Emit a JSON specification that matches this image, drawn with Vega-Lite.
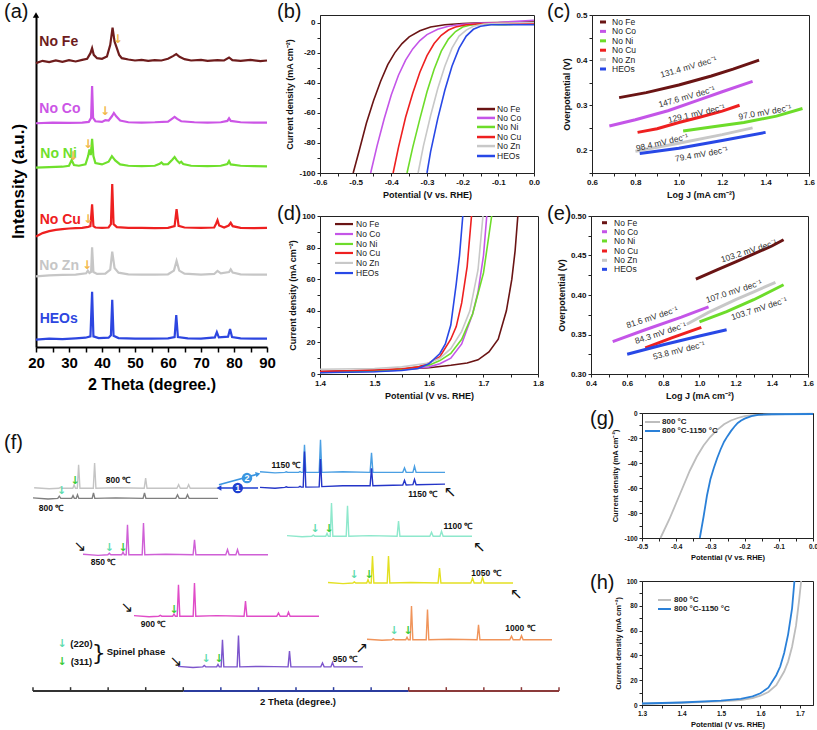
{
"$schema":"https://vega.github.io/schema/vega-lite/v6.json",
"padding":{"left":3,"top":1,"right":0,"bottom":0},
"spacing":7,
"config":{
 "font":"Liberation Sans",
 "view":{"stroke":"#222","strokeWidth":1},
 "axis":{"grid":false,"labelFlush":false,"labelOverlap":false,"domainColor":"#222","tickColor":"#222","labelColor":"#111","titleColor":"#111","labelFontWeight":"bold","titleFontWeight":"bold","labelFontSize":8,"titleFontSize":9,"tickSize":3,"labelPadding":2,"titlePadding":4}
},
"resolve":{"scale":{"color":"independent"},"legend":{"color":"independent"}},
"datasets":{
"a":[
{"s":"No Fe","x":20,"y":85.5},{"s":"No Fe","x":22,"y":86.2},{"s":"No Fe","x":24,"y":85.8},{"s":"No Fe","x":26,"y":86.3},{"s":"No Fe","x":28,"y":85.9},{"s":"No Fe","x":30,"y":86.4},{"s":"No Fe","x":32,"y":86.0},{"s":"No Fe","x":34,"y":86.5},{"s":"No Fe","x":35.5,"y":86.8},{"s":"No Fe","x":36.5,"y":88.5},{"s":"No Fe","x":37,"y":90.0},{"s":"No Fe","x":37.5,"y":88.0},{"s":"No Fe","x":38.5,"y":87.0},{"s":"No Fe","x":40,"y":86.8},{"s":"No Fe","x":41.5,"y":87.5},{"s":"No Fe","x":42.5,"y":91.0},{"s":"No Fe","x":43.2,"y":96.2},{"s":"No Fe","x":43.8,"y":92.0},{"s":"No Fe","x":44.5,"y":90.0},{"s":"No Fe","x":45.2,"y":88.0},{"s":"No Fe","x":46,"y":87.0},{"s":"No Fe","x":48,"y":86.6},{"s":"No Fe","x":50,"y":86.3},{"s":"No Fe","x":52,"y":86.5},{"s":"No Fe","x":54,"y":86.2},{"s":"No Fe","x":56,"y":86.4},{"s":"No Fe","x":58,"y":86.3},{"s":"No Fe","x":60,"y":86.8},{"s":"No Fe","x":61.5,"y":87.6},{"s":"No Fe","x":62.5,"y":88.2},{"s":"No Fe","x":63.5,"y":87.4},{"s":"No Fe","x":65,"y":86.7},{"s":"No Fe","x":67,"y":86.3},{"s":"No Fe","x":70,"y":86.5},{"s":"No Fe","x":72,"y":86.2},{"s":"No Fe","x":75,"y":86.4},{"s":"No Fe","x":77,"y":86.3},{"s":"No Fe","x":78.5,"y":87.2},{"s":"No Fe","x":79.5,"y":86.4},{"s":"No Fe","x":82,"y":86.2},{"s":"No Fe","x":85,"y":86.5},{"s":"No Fe","x":88,"y":86.1},{"s":"No Fe","x":90,"y":86.3},
{"s":"No Co","x":20,"y":67.4},{"s":"No Co","x":25,"y":67.6},{"s":"No Co","x":30,"y":67.5},{"s":"No Co","x":34,"y":67.6},{"s":"No Co","x":36,"y":67.8},{"s":"No Co","x":36.7,"y":69},{"s":"No Co","x":37,"y":78.6},{"s":"No Co","x":37.3,"y":69},{"s":"No Co","x":38,"y":68},{"s":"No Co","x":40,"y":67.8},{"s":"No Co","x":41,"y":68.3},{"s":"No Co","x":42,"y":68.2},{"s":"No Co","x":43,"y":69.5},{"s":"No Co","x":43.6,"y":70.5},{"s":"No Co","x":44.3,"y":69.5},{"s":"No Co","x":45.5,"y":68.2},{"s":"No Co","x":48,"y":67.7},{"s":"No Co","x":52,"y":67.6},{"s":"No Co","x":56,"y":67.7},{"s":"No Co","x":60,"y":67.9},{"s":"No Co","x":61.3,"y":68.8},{"s":"No Co","x":62,"y":69.3},{"s":"No Co","x":62.8,"y":68.7},{"s":"No Co","x":64,"y":68},{"s":"No Co","x":68,"y":67.7},{"s":"No Co","x":72,"y":67.6},{"s":"No Co","x":76,"y":67.7},{"s":"No Co","x":78,"y":68.1},{"s":"No Co","x":78.5,"y":68.9},{"s":"No Co","x":79,"y":68.1},{"s":"No Co","x":82,"y":67.7},{"s":"No Co","x":86,"y":67.6},{"s":"No Co","x":90,"y":67.6},
{"s":"No Ni","x":20,"y":54.0},{"s":"No Ni","x":24,"y":54.2},{"s":"No Ni","x":28,"y":54.3},{"s":"No Ni","x":30,"y":54.6},{"s":"No Ni","x":30.8,"y":56.3},{"s":"No Ni","x":31.5,"y":54.8},{"s":"No Ni","x":33,"y":54.6},{"s":"No Ni","x":35,"y":55},{"s":"No Ni","x":35.8,"y":57.5},{"s":"No Ni","x":36.2,"y":59.5},{"s":"No Ni","x":36.6,"y":57.8},{"s":"No Ni","x":37,"y":62.7},{"s":"No Ni","x":37.4,"y":57.5},{"s":"No Ni","x":38,"y":55.4},{"s":"No Ni","x":40,"y":55},{"s":"No Ni","x":42,"y":55.8},{"s":"No Ni","x":43,"y":57.5},{"s":"No Ni","x":44,"y":56.2},{"s":"No Ni","x":45.5,"y":55},{"s":"No Ni","x":48,"y":54.6},{"s":"No Ni","x":52,"y":54.5},{"s":"No Ni","x":56,"y":54.6},{"s":"No Ni","x":57.5,"y":55.2},{"s":"No Ni","x":58,"y":55.6},{"s":"No Ni","x":58.6,"y":55},{"s":"No Ni","x":60,"y":55.1},{"s":"No Ni","x":61.3,"y":56.4},{"s":"No Ni","x":62,"y":57.2},{"s":"No Ni","x":62.7,"y":56.2},{"s":"No Ni","x":63.5,"y":55.4},{"s":"No Ni","x":64,"y":55.8},{"s":"No Ni","x":64.6,"y":55.1},{"s":"No Ni","x":67,"y":54.6},{"s":"No Ni","x":72,"y":54.5},{"s":"No Ni","x":76,"y":54.6},{"s":"No Ni","x":78,"y":55.1},{"s":"No Ni","x":78.5,"y":56},{"s":"No Ni","x":79,"y":55},{"s":"No Ni","x":82,"y":54.6},{"s":"No Ni","x":86,"y":54.5},{"s":"No Ni","x":90,"y":54.4},
{"s":"No Cu","x":20,"y":33.3},{"s":"No Cu","x":22,"y":34.3},{"s":"No Cu","x":24,"y":34.9},{"s":"No Cu","x":26,"y":35.3},{"s":"No Cu","x":28,"y":35.5},{"s":"No Cu","x":30,"y":35.7},{"s":"No Cu","x":32,"y":35.8},{"s":"No Cu","x":34,"y":35.9},{"s":"No Cu","x":35.8,"y":36.2},{"s":"No Cu","x":36.5,"y":36.4},{"s":"No Cu","x":37,"y":43.0},{"s":"No Cu","x":37.4,"y":36.4},{"s":"No Cu","x":38,"y":36},{"s":"No Cu","x":40,"y":35.9},{"s":"No Cu","x":42,"y":36},{"s":"No Cu","x":42.7,"y":37},{"s":"No Cu","x":43.1,"y":49.1},{"s":"No Cu","x":43.5,"y":37},{"s":"No Cu","x":44.5,"y":36.1},{"s":"No Cu","x":48,"y":35.9},{"s":"No Cu","x":52,"y":35.9},{"s":"No Cu","x":56,"y":35.8},{"s":"No Cu","x":60,"y":35.9},{"s":"No Cu","x":62,"y":36.4},{"s":"No Cu","x":62.6,"y":41.5},{"s":"No Cu","x":63.2,"y":36.5},{"s":"No Cu","x":65,"y":36},{"s":"No Cu","x":70,"y":35.9},{"s":"No Cu","x":74,"y":36},{"s":"No Cu","x":74.6,"y":37.2},{"s":"No Cu","x":75,"y":38.2},{"s":"No Cu","x":75.5,"y":36.6},{"s":"No Cu","x":77,"y":36},{"s":"No Cu","x":78.4,"y":36.6},{"s":"No Cu","x":79,"y":37.4},{"s":"No Cu","x":79.6,"y":36.4},{"s":"No Cu","x":82,"y":35.9},{"s":"No Cu","x":86,"y":35.8},{"s":"No Cu","x":90,"y":35.9},
{"s":"No Zn","x":20,"y":21.3},{"s":"No Zn","x":24,"y":21.6},{"s":"No Zn","x":28,"y":21.7},{"s":"No Zn","x":32,"y":21.8},{"s":"No Zn","x":35.2,"y":22.2},{"s":"No Zn","x":35.7,"y":23},{"s":"No Zn","x":36.2,"y":22.3},{"s":"No Zn","x":36.7,"y":22.6},{"s":"No Zn","x":37,"y":30.0},{"s":"No Zn","x":37.4,"y":22.6},{"s":"No Zn","x":38.5,"y":22},{"s":"No Zn","x":41,"y":22.1},{"s":"No Zn","x":42.5,"y":23.3},{"s":"No Zn","x":43.1,"y":28.7},{"s":"No Zn","x":43.8,"y":23.8},{"s":"No Zn","x":45,"y":22.4},{"s":"No Zn","x":48,"y":21.9},{"s":"No Zn","x":52,"y":21.8},{"s":"No Zn","x":56,"y":21.8},{"s":"No Zn","x":60,"y":21.9},{"s":"No Zn","x":61.8,"y":23},{"s":"No Zn","x":62.6,"y":25.9},{"s":"No Zn","x":63.4,"y":23},{"s":"No Zn","x":65,"y":22.1},{"s":"No Zn","x":70,"y":21.8},{"s":"No Zn","x":74,"y":22},{"s":"No Zn","x":75,"y":22.9},{"s":"No Zn","x":76,"y":22.2},{"s":"No Zn","x":78.5,"y":22.6},{"s":"No Zn","x":79,"y":23.4},{"s":"No Zn","x":79.6,"y":22.4},{"s":"No Zn","x":82,"y":21.9},{"s":"No Zn","x":86,"y":21.8},{"s":"No Zn","x":90,"y":21.8},
{"s":"HEOs","x":20,"y":2.2},{"s":"HEOs","x":24,"y":2.5},{"s":"HEOs","x":28,"y":2.4},{"s":"HEOs","x":32,"y":2.6},{"s":"HEOs","x":35,"y":2.8},{"s":"HEOs","x":36.5,"y":3.2},{"s":"HEOs","x":37,"y":16.6},{"s":"HEOs","x":37.4,"y":3.2},{"s":"HEOs","x":39,"y":2.7},{"s":"HEOs","x":42,"y":2.8},{"s":"HEOs","x":42.7,"y":3.5},{"s":"HEOs","x":43.1,"y":14.2},{"s":"HEOs","x":43.5,"y":3.4},{"s":"HEOs","x":45,"y":2.7},{"s":"HEOs","x":50,"y":2.5},{"s":"HEOs","x":55,"y":2.5},{"s":"HEOs","x":60,"y":2.6},{"s":"HEOs","x":62,"y":3.0},{"s":"HEOs","x":62.5,"y":9.6},{"s":"HEOs","x":63,"y":3.0},{"s":"HEOs","x":66,"y":2.6},{"s":"HEOs","x":70,"y":2.5},{"s":"HEOs","x":74.2,"y":2.9},{"s":"HEOs","x":74.8,"y":4.5},{"s":"HEOs","x":75.4,"y":2.9},{"s":"HEOs","x":78.2,"y":3.1},{"s":"HEOs","x":78.8,"y":5.4},{"s":"HEOs","x":79.4,"y":3.0},{"s":"HEOs","x":82,"y":2.6},{"s":"HEOs","x":86,"y":2.5},{"s":"HEOs","x":90,"y":2.5}
],
"alab":[{"s":"No Fe","x":21,"y":91.9},{"s":"No Co","x":21,"y":71.7},{"s":"No Ni","x":21.3,"y":58.1},{"s":"No Cu","x":21.1,"y":38.3},{"s":"No Zn","x":21,"y":24.4},{"s":"HEOs","x":21.1,"y":8.4}],
"aarr":[{"x":44.8,"y":92.8},{"x":40.9,"y":71.1},{"x":35.8,"y":61.1},{"x":31.2,"y":57.4},{"x":35.8,"y":38.6},{"x":35.5,"y":24.7}],
"b":[
{"s":"No Fe","x":-0.507,"y":-100},{"s":"No Fe","x":-0.49,"y":-85},{"s":"No Fe","x":-0.47,"y":-67},{"s":"No Fe","x":-0.45,"y":-52},{"s":"No Fe","x":-0.43,"y":-39},{"s":"No Fe","x":-0.41,"y":-28},{"s":"No Fe","x":-0.39,"y":-20},{"s":"No Fe","x":-0.37,"y":-14},{"s":"No Fe","x":-0.35,"y":-9.5},{"s":"No Fe","x":-0.32,"y":-5.5},{"s":"No Fe","x":-0.29,"y":-3},{"s":"No Fe","x":-0.25,"y":-1.5},{"s":"No Fe","x":-0.2,"y":-0.6},{"s":"No Fe","x":-0.15,"y":-0.2},{"s":"No Fe","x":-0.1,"y":0},{"s":"No Fe","x":0,"y":0.5},
{"s":"No Co","x":-0.458,"y":-100},{"s":"No Co","x":-0.44,"y":-82},{"s":"No Co","x":-0.42,"y":-64},{"s":"No Co","x":-0.4,"y":-48},{"s":"No Co","x":-0.38,"y":-35},{"s":"No Co","x":-0.36,"y":-25},{"s":"No Co","x":-0.34,"y":-17.5},{"s":"No Co","x":-0.32,"y":-12},{"s":"No Co","x":-0.3,"y":-8},{"s":"No Co","x":-0.27,"y":-4.5},{"s":"No Co","x":-0.24,"y":-2.5},{"s":"No Co","x":-0.2,"y":-1.2},{"s":"No Co","x":-0.15,"y":-0.4},{"s":"No Co","x":-0.1,"y":0},{"s":"No Co","x":0,"y":1.5},
{"s":"No Ni","x":-0.356,"y":-100},{"s":"No Ni","x":-0.34,"y":-83},{"s":"No Ni","x":-0.32,"y":-64},{"s":"No Ni","x":-0.3,"y":-46},{"s":"No Ni","x":-0.28,"y":-31},{"s":"No Ni","x":-0.26,"y":-19},{"s":"No Ni","x":-0.24,"y":-11},{"s":"No Ni","x":-0.22,"y":-6},{"s":"No Ni","x":-0.2,"y":-3},{"s":"No Ni","x":-0.18,"y":-1.8},{"s":"No Ni","x":-0.15,"y":-1},{"s":"No Ni","x":-0.1,"y":-1.5},{"s":"No Ni","x":-0.08,"y":-1.5},{"s":"No Ni","x":0,"y":0},
{"s":"No Cu","x":-0.395,"y":-100},{"s":"No Cu","x":-0.38,"y":-83},{"s":"No Cu","x":-0.36,"y":-63},{"s":"No Cu","x":-0.34,"y":-47},{"s":"No Cu","x":-0.32,"y":-33},{"s":"No Cu","x":-0.3,"y":-22},{"s":"No Cu","x":-0.28,"y":-14},{"s":"No Cu","x":-0.26,"y":-8.5},{"s":"No Cu","x":-0.24,"y":-5},{"s":"No Cu","x":-0.22,"y":-3},{"s":"No Cu","x":-0.19,"y":-1.5},{"s":"No Cu","x":-0.15,"y":-0.8},{"s":"No Cu","x":-0.1,"y":-0.5},{"s":"No Cu","x":0,"y":-0.5},
{"s":"No Zn","x":-0.325,"y":-100},{"s":"No Zn","x":-0.31,"y":-82},{"s":"No Zn","x":-0.29,"y":-62},{"s":"No Zn","x":-0.27,"y":-44},{"s":"No Zn","x":-0.25,"y":-29},{"s":"No Zn","x":-0.23,"y":-17},{"s":"No Zn","x":-0.21,"y":-9},{"s":"No Zn","x":-0.19,"y":-5},{"s":"No Zn","x":-0.17,"y":-2.5},{"s":"No Zn","x":-0.14,"y":-1},{"s":"No Zn","x":-0.1,"y":-0.5},{"s":"No Zn","x":0,"y":0},
{"s":"HEOs","x":-0.3,"y":-100},{"s":"HEOs","x":-0.29,"y":-86},{"s":"HEOs","x":-0.27,"y":-64},{"s":"HEOs","x":-0.25,"y":-45},{"s":"HEOs","x":-0.23,"y":-29},{"s":"HEOs","x":-0.21,"y":-17},{"s":"HEOs","x":-0.19,"y":-9},{"s":"HEOs","x":-0.17,"y":-4.5},{"s":"HEOs","x":-0.15,"y":-2.5},{"s":"HEOs","x":-0.12,"y":-1.5},{"s":"HEOs","x":-0.08,"y":-1.5},{"s":"HEOs","x":0,"y":-1.5}
],
"legB":[{"s":"No Fe","x":-0.1598,"x2":-0.1093,"lx":-0.1037,"y":-57.5},{"s":"No Co","x":-0.1598,"x2":-0.1093,"lx":-0.1037,"y":-63.4},{"s":"No Ni","x":-0.1598,"x2":-0.1093,"lx":-0.1037,"y":-69.4},{"s":"No Cu","x":-0.1598,"x2":-0.1093,"lx":-0.1037,"y":-76.1},{"s":"No Zn","x":-0.1598,"x2":-0.1093,"lx":-0.1037,"y":-82.1},{"s":"HEOs","x":-0.1598,"x2":-0.1093,"lx":-0.1037,"y":-88.7}],
"c":[
{"s":"No Fe","x":0.725,"y":0.317},{"s":"No Fe","x":0.85,"y":0.328},{"s":"No Fe","x":1.0,"y":0.345},{"s":"No Fe","x":1.15,"y":0.365},{"s":"No Fe","x":1.25,"y":0.38},{"s":"No Fe","x":1.37,"y":0.4},
{"s":"No Co","x":0.68,"y":0.254},{"s":"No Co","x":0.8,"y":0.268},{"s":"No Co","x":0.95,"y":0.288},{"s":"No Co","x":1.1,"y":0.313},{"s":"No Co","x":1.2,"y":0.33},{"s":"No Co","x":1.34,"y":0.353},
{"s":"No Ni","x":1.02,"y":0.243},{"s":"No Ni","x":1.15,"y":0.252},{"s":"No Ni","x":1.3,"y":0.262},{"s":"No Ni","x":1.45,"y":0.276},{"s":"No Ni","x":1.57,"y":0.293},
{"s":"No Cu","x":0.81,"y":0.24},{"s":"No Cu","x":0.9,"y":0.248},{"s":"No Cu","x":1.0,"y":0.262},{"s":"No Cu","x":1.1,"y":0.274},{"s":"No Cu","x":1.2,"y":0.287},{"s":"No Cu","x":1.28,"y":0.3},
{"s":"No Zn","x":0.8,"y":0.198},{"s":"No Zn","x":1.0,"y":0.216},{"s":"No Zn","x":1.2,"y":0.235},{"s":"No Zn","x":1.34,"y":0.25},
{"s":"HEOs","x":0.82,"y":0.193},{"s":"HEOs","x":1.0,"y":0.205},{"s":"HEOs","x":1.2,"y":0.222},{"s":"HEOs","x":1.4,"y":0.24}
],
"legC":[{"s":"No Fe","x":0.6369,"x2":0.6645,"lx":0.6922,"y":0.4845},{"s":"No Co","x":0.6369,"x2":0.6645,"lx":0.6922,"y":0.4637},{"s":"No Ni","x":0.6369,"x2":0.6645,"lx":0.6922,"y":0.4428},{"s":"No Cu","x":0.6369,"x2":0.6645,"lx":0.6922,"y":0.422},{"s":"No Zn","x":0.6369,"x2":0.6645,"lx":0.6922,"y":0.4012},{"s":"HEOs","x":0.6369,"x2":0.6645,"lx":0.6922,"y":0.3804}],
"d":[
{"s":"No Fe","x":1.4,"y":1.5},{"s":"No Fe","x":1.5,"y":2.3},{"s":"No Fe","x":1.55,"y":3},{"s":"No Fe","x":1.6,"y":4},{"s":"No Fe","x":1.64,"y":5.5},{"s":"No Fe","x":1.67,"y":7},{"s":"No Fe","x":1.69,"y":9},{"s":"No Fe","x":1.71,"y":14},{"s":"No Fe","x":1.727,"y":22},{"s":"No Fe","x":1.742,"y":40},{"s":"No Fe","x":1.752,"y":60},{"s":"No Fe","x":1.758,"y":78},{"s":"No Fe","x":1.763,"y":100},
{"s":"No Co","x":1.4,"y":1},{"s":"No Co","x":1.5,"y":1.6},{"s":"No Co","x":1.55,"y":2.5},{"s":"No Co","x":1.6,"y":4.5},{"s":"No Co","x":1.62,"y":6.5},{"s":"No Co","x":1.64,"y":10},{"s":"No Co","x":1.66,"y":19},{"s":"No Co","x":1.68,"y":38},{"s":"No Co","x":1.69,"y":52},{"s":"No Co","x":1.7,"y":75},{"s":"No Co","x":1.706,"y":100},
{"s":"No Ni","x":1.4,"y":1},{"s":"No Ni","x":1.5,"y":2},{"s":"No Ni","x":1.55,"y":3},{"s":"No Ni","x":1.6,"y":5.5},{"s":"No Ni","x":1.62,"y":8.5},{"s":"No Ni","x":1.64,"y":13},{"s":"No Ni","x":1.66,"y":22},{"s":"No Ni","x":1.68,"y":38},{"s":"No Ni","x":1.7,"y":64},{"s":"No Ni","x":1.715,"y":100},
{"s":"No Cu","x":1.4,"y":1.5},{"s":"No Cu","x":1.5,"y":2.5},{"s":"No Cu","x":1.55,"y":3.3},{"s":"No Cu","x":1.58,"y":4.5},{"s":"No Cu","x":1.6,"y":7},{"s":"No Cu","x":1.62,"y":11},{"s":"No Cu","x":1.64,"y":22},{"s":"No Cu","x":1.65,"y":30},{"s":"No Cu","x":1.66,"y":45},{"s":"No Cu","x":1.67,"y":68},{"s":"No Cu","x":1.678,"y":100},
{"s":"No Zn","x":1.4,"y":3},{"s":"No Zn","x":1.5,"y":3.5},{"s":"No Zn","x":1.55,"y":4.5},{"s":"No Zn","x":1.6,"y":7},{"s":"No Zn","x":1.62,"y":10},{"s":"No Zn","x":1.64,"y":16},{"s":"No Zn","x":1.66,"y":27},{"s":"No Zn","x":1.675,"y":40},{"s":"No Zn","x":1.69,"y":66},{"s":"No Zn","x":1.699,"y":100},
{"s":"HEOs","x":1.4,"y":0.8},{"s":"HEOs","x":1.5,"y":1.4},{"s":"HEOs","x":1.55,"y":2.2},{"s":"HEOs","x":1.58,"y":3.5},{"s":"HEOs","x":1.6,"y":6.5},{"s":"HEOs","x":1.62,"y":13},{"s":"HEOs","x":1.63,"y":19},{"s":"HEOs","x":1.64,"y":31},{"s":"HEOs","x":1.65,"y":57},{"s":"HEOs","x":1.656,"y":75},{"s":"HEOs","x":1.662,"y":100}
],
"legD":[{"s":"No Fe","x":1.4275,"x2":1.4606,"lx":1.4661,"y":94.9},{"s":"No Co","x":1.4275,"x2":1.4606,"lx":1.4661,"y":88.6},{"s":"No Ni","x":1.4275,"x2":1.4606,"lx":1.4661,"y":82.3},{"s":"No Cu","x":1.4275,"x2":1.4606,"lx":1.4661,"y":76.6},{"s":"No Zn","x":1.4275,"x2":1.4606,"lx":1.4661,"y":70.3},{"s":"HEOs","x":1.4275,"x2":1.4606,"lx":1.4661,"y":63.9}],
"e":[
{"s":"No Fe","x":0.98,"y":0.42},{"s":"No Fe","x":1.1,"y":0.432},{"s":"No Fe","x":1.2,"y":0.442},{"s":"No Fe","x":1.3,"y":0.452},{"s":"No Fe","x":1.4,"y":0.462},{"s":"No Fe","x":1.465,"y":0.47},
{"s":"No Co","x":0.52,"y":0.341},{"s":"No Co","x":0.7,"y":0.356},{"s":"No Co","x":0.9,"y":0.372},{"s":"No Co","x":1.05,"y":0.385},
{"s":"No Ni","x":1.0,"y":0.366},{"s":"No Ni","x":1.15,"y":0.379},{"s":"No Ni","x":1.3,"y":0.394},{"s":"No Ni","x":1.465,"y":0.413},
{"s":"No Cu","x":0.7,"y":0.333},{"s":"No Cu","x":0.85,"y":0.346},{"s":"No Cu","x":1.01,"y":0.359},
{"s":"No Zn","x":0.93,"y":0.363},{"s":"No Zn","x":1.05,"y":0.378},{"s":"No Zn","x":1.2,"y":0.394},{"s":"No Zn","x":1.3,"y":0.404},{"s":"No Zn","x":1.42,"y":0.416},
{"s":"HEOs","x":0.6,"y":0.325},{"s":"HEOs","x":0.8,"y":0.337},{"s":"HEOs","x":1.0,"y":0.348},{"s":"HEOs","x":1.15,"y":0.356}
],
"legE":[{"s":"No Fe","x":0.4608,"x2":0.4885,"lx":0.5272,"y":0.4915},{"s":"No Co","x":0.4608,"x2":0.4885,"lx":0.5272,"y":0.4801},{"s":"No Ni","x":0.4608,"x2":0.4885,"lx":0.5272,"y":0.4684},{"s":"No Cu","x":0.4608,"x2":0.4885,"lx":0.5272,"y":0.4557},{"s":"No Zn","x":0.4608,"x2":0.4885,"lx":0.5272,"y":0.4439},{"s":"HEOs","x":0.4608,"x2":0.4885,"lx":0.5272,"y":0.4325}],
"g":[
{"s":"800 °C","x":-0.446,"y":-100},{"s":"800 °C","x":-0.42,"y":-85},{"s":"800 °C","x":-0.4,"y":-72},{"s":"800 °C","x":-0.38,"y":-59},{"s":"800 °C","x":-0.36,"y":-46},{"s":"800 °C","x":-0.34,"y":-35},{"s":"800 °C","x":-0.32,"y":-26},{"s":"800 °C","x":-0.3,"y":-19},{"s":"800 °C","x":-0.28,"y":-13.5},{"s":"800 °C","x":-0.26,"y":-9},{"s":"800 °C","x":-0.24,"y":-6},{"s":"800 °C","x":-0.22,"y":-4},{"s":"800 °C","x":-0.2,"y":-2.5},{"s":"800 °C","x":-0.17,"y":-1.5},{"s":"800 °C","x":-0.12,"y":-1},{"s":"800 °C","x":0,"y":-0.5},
{"s":"800 °C-1150 °C","x":-0.331,"y":-100},{"s":"800 °C-1150 °C","x":-0.32,"y":-83},{"s":"800 °C-1150 °C","x":-0.31,"y":-66},{"s":"800 °C-1150 °C","x":-0.3,"y":-53},{"s":"800 °C-1150 °C","x":-0.29,"y":-44},{"s":"800 °C-1150 °C","x":-0.28,"y":-36},{"s":"800 °C-1150 °C","x":-0.27,"y":-29},{"s":"800 °C-1150 °C","x":-0.26,"y":-23},{"s":"800 °C-1150 °C","x":-0.25,"y":-18.5},{"s":"800 °C-1150 °C","x":-0.24,"y":-14.5},{"s":"800 °C-1150 °C","x":-0.23,"y":-11},{"s":"800 °C-1150 °C","x":-0.22,"y":-8},{"s":"800 °C-1150 °C","x":-0.21,"y":-6},{"s":"800 °C-1150 °C","x":-0.2,"y":-4.5},{"s":"800 °C-1150 °C","x":-0.18,"y":-2.5},{"s":"800 °C-1150 °C","x":-0.16,"y":-1.5},{"s":"800 °C-1150 °C","x":-0.12,"y":-1},{"s":"800 °C-1150 °C","x":0,"y":-0.8}
],
"legG":[{"s":"800 °C","x":-0.4912,"x2":-0.4474,"lx":-0.4415,"y":-7.2},{"s":"800 °C-1150 °C","x":-0.4912,"x2":-0.4474,"lx":-0.4415,"y":-14.4}],
"h":[
{"s":"800 °C","x":1.3,"y":1},{"s":"800 °C","x":1.4,"y":1.8},{"s":"800 °C","x":1.5,"y":3},{"s":"800 °C","x":1.55,"y":4},{"s":"800 °C","x":1.58,"y":5.5},{"s":"800 °C","x":1.6,"y":7.5},{"s":"800 °C","x":1.62,"y":10.5},{"s":"800 °C","x":1.64,"y":16},{"s":"800 °C","x":1.66,"y":27},{"s":"800 °C","x":1.67,"y":35},{"s":"800 °C","x":1.68,"y":47},{"s":"800 °C","x":1.69,"y":64},{"s":"800 °C","x":1.698,"y":85},{"s":"800 °C","x":1.703,"y":100},
{"s":"800 °C-1150 °C","x":1.3,"y":1.2},{"s":"800 °C-1150 °C","x":1.4,"y":2},{"s":"800 °C-1150 °C","x":1.5,"y":3.5},{"s":"800 °C-1150 °C","x":1.55,"y":5},{"s":"800 °C-1150 °C","x":1.58,"y":7},{"s":"800 °C-1150 °C","x":1.6,"y":9.5},{"s":"800 °C-1150 °C","x":1.62,"y":14},{"s":"800 °C-1150 °C","x":1.64,"y":24},{"s":"800 °C-1150 °C","x":1.65,"y":31},{"s":"800 °C-1150 °C","x":1.66,"y":42},{"s":"800 °C-1150 °C","x":1.67,"y":57},{"s":"800 °C-1150 °C","x":1.68,"y":78},{"s":"800 °C-1150 °C","x":1.686,"y":100}
],
"legH":[{"s":"800 °C","x":1.3405,"x2":1.3734,"lx":1.381,"y":84.7},{"s":"800 °C-1150 °C","x":1.3405,"x2":1.3734,"lx":1.381,"y":77.4}],
"f":[
{"t":"800a","x":0.03,"y":74.2},{"t":"800a","x":0.43,"y":73.8},{"t":"800a","x":0.69,"y":74.0},{"t":"800a","x":0.73,"y":74.3},{"t":"800a","x":0.77,"y":74.0},{"t":"800a","x":1.06,"y":74.0},{"t":"800a","x":1.095,"y":75.2},{"t":"800a","x":1.13,"y":74.0},{"t":"800a","x":1.18,"y":74.0},{"t":"800a","x":1.214,"y":82.6},{"t":"800a","x":1.25,"y":74.0},{"t":"800a","x":1.605,"y":74.0},{"t":"800a","x":1.64,"y":83.2},{"t":"800a","x":1.675,"y":74.0},{"t":"800a","x":2.23,"y":74.2},{"t":"800a","x":2.96,"y":74.0},{"t":"800a","x":2.998,"y":77.7},{"t":"800a","x":3.035,"y":74.0},{"t":"800a","x":3.83,"y":74.0},{"t":"800a","x":3.876,"y":75.3},{"t":"800a","x":3.92,"y":74.0},{"t":"800a","x":4.1,"y":74.0},{"t":"800a","x":4.142,"y":75.3},{"t":"800a","x":4.185,"y":74.0},{"t":"800a","x":4.954,"y":74.0},
{"t":"800b","x":0,"y":70.5},{"t":"800b","x":0.4,"y":70.1},{"t":"800b","x":0.66,"y":70.3},{"t":"800b","x":0.7,"y":71.1},{"t":"800b","x":0.74,"y":70.3},{"t":"800b","x":1.03,"y":70.3},{"t":"800b","x":1.065,"y":71.3},{"t":"800b","x":1.1,"y":70.3},{"t":"800b","x":1.15,"y":70.3},{"t":"800b","x":1.184,"y":71.6},{"t":"800b","x":1.22,"y":70.3},{"t":"800b","x":1.575,"y":70.3},{"t":"800b","x":1.61,"y":72.3},{"t":"800b","x":1.645,"y":70.3},{"t":"800b","x":2.2,"y":70.5},{"t":"800b","x":2.93,"y":70.3},{"t":"800b","x":2.968,"y":72.3},{"t":"800b","x":3.005,"y":70.3},{"t":"800b","x":3.8,"y":70.3},{"t":"800b","x":3.846,"y":71.6},{"t":"800b","x":3.89,"y":70.3},{"t":"800b","x":4.07,"y":70.3},{"t":"800b","x":4.112,"y":71.6},{"t":"800b","x":4.155,"y":70.3},{"t":"800b","x":4.924,"y":70.3},
{"t":"850","x":1.331,"y":49.9},{"t":"850","x":1.731,"y":49.5},{"t":"850","x":1.991,"y":49.7},{"t":"850","x":2.031,"y":50.3},{"t":"850","x":2.071,"y":49.7},{"t":"850","x":2.361,"y":49.7},{"t":"850","x":2.396,"y":50.7},{"t":"850","x":2.431,"y":49.7},{"t":"850","x":2.481,"y":49.7},{"t":"850","x":2.515,"y":60.7},{"t":"850","x":2.551,"y":49.7},{"t":"850","x":2.906,"y":49.7},{"t":"850","x":2.941,"y":61.3},{"t":"850","x":2.976,"y":49.7},{"t":"850","x":3.531,"y":49.9},{"t":"850","x":4.261,"y":49.7},{"t":"850","x":4.299,"y":55.2},{"t":"850","x":4.336,"y":49.7},{"t":"850","x":5.131,"y":49.7},{"t":"850","x":5.177,"y":51.6},{"t":"850","x":5.221,"y":49.7},{"t":"850","x":5.401,"y":49.7},{"t":"850","x":5.443,"y":51.6},{"t":"850","x":5.486,"y":49.7},{"t":"850","x":6.255,"y":49.7},
{"t":"900","x":2.688,"y":27.5},{"t":"900","x":3.088,"y":27.1},{"t":"900","x":3.348,"y":27.3},{"t":"900","x":3.388,"y":27.6},{"t":"900","x":3.428,"y":27.3},{"t":"900","x":3.718,"y":27.3},{"t":"900","x":3.753,"y":28.1},{"t":"900","x":3.788,"y":27.3},{"t":"900","x":3.838,"y":27.3},{"t":"900","x":3.872,"y":38.8},{"t":"900","x":3.908,"y":27.3},{"t":"900","x":4.263,"y":27.3},{"t":"900","x":4.298,"y":39.4},{"t":"900","x":4.333,"y":27.3},{"t":"900","x":4.888,"y":27.5},{"t":"900","x":5.618,"y":27.3},{"t":"900","x":5.656,"y":32.8},{"t":"900","x":5.693,"y":27.3},{"t":"900","x":6.488,"y":27.3},{"t":"900","x":6.534,"y":28.5},{"t":"900","x":6.578,"y":27.3},{"t":"900","x":6.758,"y":27.3},{"t":"900","x":6.8,"y":28.8},{"t":"900","x":6.843,"y":27.3},{"t":"900","x":7.612,"y":27.3},
{"t":"950","x":3.859,"y":9.0},{"t":"950","x":4.259,"y":8.6},{"t":"950","x":4.519,"y":8.8},{"t":"950","x":4.559,"y":9.3},{"t":"950","x":4.599,"y":8.8},{"t":"950","x":4.889,"y":8.8},{"t":"950","x":4.924,"y":9.7},{"t":"950","x":4.959,"y":8.8},{"t":"950","x":5.009,"y":8.8},{"t":"950","x":5.043,"y":18.7},{"t":"950","x":5.079,"y":8.8},{"t":"950","x":5.434,"y":8.8},{"t":"950","x":5.469,"y":20.2},{"t":"950","x":5.504,"y":8.8},{"t":"950","x":6.059,"y":9.0},{"t":"950","x":6.789,"y":8.8},{"t":"950","x":6.827,"y":14.6},{"t":"950","x":6.864,"y":8.8},{"t":"950","x":7.659,"y":8.8},{"t":"950","x":7.705,"y":10.2},{"t":"950","x":7.749,"y":8.8},{"t":"950","x":7.929,"y":8.8},{"t":"950","x":7.971,"y":10.4},{"t":"950","x":8.014,"y":8.8},{"t":"950","x":8.783,"y":8.8},
{"t":"1000","x":8.89,"y":18.9},{"t":"1000","x":9.29,"y":18.5},{"t":"1000","x":9.55,"y":18.7},{"t":"1000","x":9.59,"y":19.1},{"t":"1000","x":9.63,"y":18.7},{"t":"1000","x":9.92,"y":18.7},{"t":"1000","x":9.955,"y":19.6},{"t":"1000","x":9.99,"y":18.7},{"t":"1000","x":10.04,"y":18.7},{"t":"1000","x":10.074,"y":31.0},{"t":"1000","x":10.11,"y":18.7},{"t":"1000","x":10.465,"y":18.7},{"t":"1000","x":10.5,"y":29.7},{"t":"1000","x":10.535,"y":18.7},{"t":"1000","x":11.09,"y":18.9},{"t":"1000","x":11.82,"y":18.7},{"t":"1000","x":11.858,"y":24.2},{"t":"1000","x":11.895,"y":18.7},{"t":"1000","x":12.69,"y":18.7},{"t":"1000","x":12.736,"y":20.0},{"t":"1000","x":12.78,"y":18.7},{"t":"1000","x":12.96,"y":18.7},{"t":"1000","x":13.002,"y":20.2},{"t":"1000","x":13.045,"y":18.7},{"t":"1000","x":13.814,"y":18.7},
{"t":"1050","x":7.852,"y":39.6},{"t":"1050","x":8.252,"y":39.2},{"t":"1050","x":8.512,"y":39.4},{"t":"1050","x":8.552,"y":39.8},{"t":"1050","x":8.592,"y":39.4},{"t":"1050","x":8.882,"y":39.4},{"t":"1050","x":8.917,"y":40.6},{"t":"1050","x":8.952,"y":39.4},{"t":"1050","x":9.002,"y":39.4},{"t":"1050","x":9.036,"y":49.3},{"t":"1050","x":9.072,"y":39.4},{"t":"1050","x":9.427,"y":39.4},{"t":"1050","x":9.462,"y":49.3},{"t":"1050","x":9.497,"y":39.4},{"t":"1050","x":10.052,"y":39.6},{"t":"1050","x":10.782,"y":39.4},{"t":"1050","x":10.82,"y":44.9},{"t":"1050","x":10.857,"y":39.4},{"t":"1050","x":11.652,"y":39.4},{"t":"1050","x":11.698,"y":41.2},{"t":"1050","x":11.742,"y":39.4},{"t":"1050","x":11.922,"y":39.4},{"t":"1050","x":11.964,"y":41.5},{"t":"1050","x":12.007,"y":39.4},{"t":"1050","x":12.776,"y":39.4},
{"t":"1100","x":6.761,"y":56.7},{"t":"1100","x":7.161,"y":56.3},{"t":"1100","x":7.421,"y":56.5},{"t":"1100","x":7.461,"y":56.9},{"t":"1100","x":7.501,"y":56.5},{"t":"1100","x":7.791,"y":56.5},{"t":"1100","x":7.826,"y":57.5},{"t":"1100","x":7.861,"y":56.5},{"t":"1100","x":7.911,"y":56.5},{"t":"1100","x":7.945,"y":68.6},{"t":"1100","x":7.981,"y":56.5},{"t":"1100","x":8.336,"y":56.5},{"t":"1100","x":8.371,"y":67.6},{"t":"1100","x":8.406,"y":56.5},{"t":"1100","x":8.961,"y":56.7},{"t":"1100","x":9.691,"y":56.5},{"t":"1100","x":9.729,"y":62.0},{"t":"1100","x":9.766,"y":56.5},{"t":"1100","x":10.561,"y":56.5},{"t":"1100","x":10.607,"y":57.9},{"t":"1100","x":10.651,"y":56.5},{"t":"1100","x":10.831,"y":56.5},{"t":"1100","x":10.873,"y":58.3},{"t":"1100","x":10.916,"y":56.5},{"t":"1100","x":11.685,"y":56.5},
{"t":"1150a","x":6.042,"y":80.0},{"t":"1150a","x":6.442,"y":79.6},{"t":"1150a","x":6.702,"y":79.8},{"t":"1150a","x":6.742,"y":80.0},{"t":"1150a","x":6.782,"y":79.8},{"t":"1150a","x":7.072,"y":79.8},{"t":"1150a","x":7.107,"y":80.1},{"t":"1150a","x":7.142,"y":79.8},{"t":"1150a","x":7.192,"y":79.8},{"t":"1150a","x":7.226,"y":89.9},{"t":"1150a","x":7.262,"y":79.8},{"t":"1150a","x":7.617,"y":79.8},{"t":"1150a","x":7.652,"y":91.7},{"t":"1150a","x":7.687,"y":79.8},{"t":"1150a","x":8.242,"y":80.0},{"t":"1150a","x":8.972,"y":79.8},{"t":"1150a","x":9.01,"y":86.9},{"t":"1150a","x":9.047,"y":79.8},{"t":"1150a","x":9.842,"y":79.8},{"t":"1150a","x":9.888,"y":81.4},{"t":"1150a","x":9.932,"y":79.8},{"t":"1150a","x":10.112,"y":79.8},{"t":"1150a","x":10.154,"y":82.0},{"t":"1150a","x":10.197,"y":79.8},{"t":"1150a","x":10.966,"y":79.8},
{"t":"1150b","x":6.042,"y":74.3},{"t":"1150b","x":6.442,"y":74.0},{"t":"1150b","x":6.702,"y":74.3},{"t":"1150b","x":6.742,"y":74.5},{"t":"1150b","x":6.782,"y":74.3},{"t":"1150b","x":7.072,"y":74.4},{"t":"1150b","x":7.107,"y":74.7},{"t":"1150b","x":7.142,"y":74.4},{"t":"1150b","x":7.192,"y":74.4},{"t":"1150b","x":7.226,"y":87.4},{"t":"1150b","x":7.262,"y":74.4},{"t":"1150b","x":7.617,"y":74.5},{"t":"1150b","x":7.652,"y":84.7},{"t":"1150b","x":7.687,"y":74.6},{"t":"1150b","x":8.242,"y":74.9},{"t":"1150b","x":8.972,"y":74.9},{"t":"1150b","x":9.01,"y":81.3},{"t":"1150b","x":9.047,"y":74.9},{"t":"1150b","x":9.842,"y":75.2},{"t":"1150b","x":9.888,"y":76.9},{"t":"1150b","x":9.932,"y":75.2},{"t":"1150b","x":10.112,"y":75.3},{"t":"1150b","x":10.154,"y":77.2},{"t":"1150b","x":10.197,"y":75.3},{"t":"1150b","x":10.966,"y":75.5}
],
"faxis":[{"x":0,"x2":4,"y":0,"seg":"k"},{"x":4,"x2":10,"y":0,"seg":"b"},{"x":10,"x2":14,"y":0,"seg":"r"}],
"ftick":[{"x":0,"y":0,"y2":1.4,"seg":"k"},{"x":1,"y":0,"y2":1.4,"seg":"k"},{"x":2,"y":0,"y2":1.4,"seg":"k"},{"x":3,"y":0,"y2":1.4,"seg":"k"},{"x":4,"y":0,"y2":1.4,"seg":"k"},{"x":5,"y":0,"y2":1.4,"seg":"b"},{"x":6,"y":0,"y2":1.4,"seg":"b"},{"x":7,"y":0,"y2":1.4,"seg":"b"},{"x":8,"y":0,"y2":1.4,"seg":"b"},{"x":9,"y":0,"y2":1.4,"seg":"b"},{"x":10,"y":0,"y2":1.4,"seg":"r"},{"x":11,"y":0,"y2":1.4,"seg":"r"},{"x":12,"y":0,"y2":1.4,"seg":"r"},{"x":13,"y":0,"y2":1.4,"seg":"r"},{"x":14,"y":0,"y2":1.4,"seg":"r"}],
"fgreen":[{"x":1.118,"y":76.6,"k":"311"},{"x":0.764,"y":73.0,"k":"220"},{"x":2.031,"y":52.2,"k":"220"},{"x":2.396,"y":52.2,"k":"311"},{"x":3.753,"y":29.7,"k":"311"},{"x":4.605,"y":11.7,"k":"220"},{"x":4.951,"y":11.7,"k":"311"},{"x":9.609,"y":21.9,"k":"220"},{"x":9.981,"y":21.9,"k":"311"},{"x":8.544,"y":42.3,"k":"220"},{"x":8.943,"y":42.3,"k":"311"},{"x":7.506,"y":59.2,"k":"220"},{"x":7.879,"y":59.2,"k":"311"},{"x":0.772,"y":17.2,"k":"220"},{"x":0.772,"y":10.6,"k":"311"}],
"fblack":[{"x":11.1,"y":72.6,"a":"↖"},{"x":11.88,"y":52.7,"a":"↖"},{"x":12.86,"y":35.4,"a":"↖"},{"x":8.76,"y":15.7,"a":"↗"},{"x":3.81,"y":10.9,"a":"↘"},{"x":2.5,"y":30.5,"a":"↘"},{"x":1.25,"y":53.0,"a":"↘"}],
"ftemp":[{"l":"800 ℃","x":2.262,"y":77.0},{"l":"800 ℃","x":0.48,"y":66.8},{"l":"1150 ℃","x":6.734,"y":82.5},{"l":"1150 ℃","x":10.372,"y":72.0},{"l":"1100 ℃","x":11.312,"y":60.2},{"l":"850 ℃","x":1.863,"y":47.1},{"l":"1050 ℃","x":12.057,"y":43.1},{"l":"900 ℃","x":3.194,"y":24.6},{"l":"1000 ℃","x":12.96,"y":23.0},{"l":"950 ℃","x":8.304,"y":11.7}],
"fblue":[{"n":"1","x":5.99,"y":74.1,"x2":4.95,"y2":74.1},{"n":"2","x":4.95,"y":75.3,"x2":5.99,"y2":79.2}],
"fcirc":[{"n":"1","x":5.45,"y":74.1},{"n":"2","x":5.696,"y":77.7}]
},
"vconcat":[
{"hconcat":[
 {"width":231,"height":332,"view":{"stroke":null},
  "encoding":{
   "x":{"field":"x","type":"quantitative","scale":{"domain":[20,90],"nice":false,"zero":false},
        "axis":{"title":"2 Theta (degree.)","values":[20,25,30,35,40,45,50,55,60,65,70,75,80,85,90],"labelExpr":"datum.value % 10 === 0 ? datum.label : ''","labelFontSize":15,"titleFontSize":16,"tickSize":5,"tickWidth":1.5,"domainWidth":2,"domainColor":"#000","tickColor":"#000","labelColor":"#000","titleColor":"#000","labelPadding":3,"titlePadding":6}},
   "y":{"field":"y","type":"quantitative","scale":{"domain":[0,100],"nice":false,"zero":false},
        "axis":{"title":"Intensity (a.u.)","ticks":false,"labels":false,"domainWidth":2,"domainColor":"#000","titleFontSize":17,"titlePadding":9,"titleColor":"#000"}}
  },
  "layer":[
   {"data":{"name":"a"},"mark":{"type":"line","strokeWidth":2.2},
    "encoding":{"color":{"field":"s","type":"nominal","scale":{"domain":["No Fe","No Co","No Ni","No Cu","No Zn","HEOs"],"range":["#6e1c1c","#cc55e6","#6fe02c","#ee2020","#c6c6c6","#2d46e0"]},"legend":null}}},
   {"data":{"name":"alab"},"mark":{"type":"text","align":"left","baseline":"middle","fontSize":14,"fontWeight":"bold"},
    "encoding":{"text":{"field":"s"},"color":{"field":"s","type":"nominal","legend":null}}},
   {"data":{"name":"aarr"},"mark":{"type":"text","text":"↓","font":"DejaVu Sans","fontSize":12,"fontWeight":"bold","color":"#f2b84a","baseline":"middle"}},
   {"data":{"values":[{"x":20,"y":100}]},"mark":{"type":"point","shape":"triangle-up","filled":true,"color":"#000","size":40,"opacity":1}},
   {"data":{"values":[{"l":"(a)","x":10.3,"y":103.9}]},"mark":{"type":"text","align":"left","baseline":"top","fontSize":20,"color":"#111"},"encoding":{"text":{"field":"l"}}}
  ]
 },
 {"vconcat":[
  {"hconcat":[
   {"width":214,"height":158,
    "encoding":{
     "x":{"field":"x","type":"quantitative","scale":{"domain":[-0.6,0],"nice":false,"zero":false},
          "axis":{"title":"Potential (V vs. RHE)","values":[-0.6,-0.55,-0.5,-0.45,-0.4,-0.35,-0.3,-0.25,-0.2,-0.15,-0.1,-0.05,0],"format":".1f","labelExpr":"round(datum.value*100) % 10 === 0 ? replace(datum.label,'−','-') : ''"}},
     "y":{"field":"y","type":"quantitative","scale":{"domain":[-100,5],"nice":false,"zero":false},
          "axis":{"title":"Current density (mA cm⁻²)","values":[-100,-90,-80,-70,-60,-50,-40,-30,-20,-10,0],"labelExpr":"datum.value % 20 === 0 ? replace(datum.label,'−','-') : ''"}}
    },
    "layer":[
     {"data":{"name":"b"},"mark":{"type":"line","strokeWidth":1.6},
      "encoding":{"color":{"field":"s","type":"nominal","scale":{"domain":["No Fe","No Co","No Ni","No Cu","No Zn","HEOs"],"range":["#6a1414","#c455e8","#6ddc2a","#ee2020","#c8c8c8","#2848e6"]},"legend":null}}},
     {"data":{"name":"legB"},"mark":{"type":"rule","strokeWidth":2.5},"encoding":{"x2":{"field":"x2"},"color":{"field":"s","type":"nominal","legend":null}}},
     {"data":{"name":"legB"},"mark":{"type":"text","align":"left","baseline":"middle","fontSize":8.5,"color":"#222"},"encoding":{"x":{"field":"lx","type":"quantitative"},"text":{"field":"s"}}},
     {"data":{"values":[{"l":"(b)","x":-0.7206,"y":13.64}]},"mark":{"type":"text","align":"left","baseline":"top","fontSize":20,"color":"#111"},"encoding":{"text":{"field":"l"}}}
    ]
   },
   {"width":217,"height":158,
    "encoding":{
     "x":{"field":"x","type":"quantitative","scale":{"domain":[0.6,1.6],"nice":false,"zero":false},
          "axis":{"title":"Log J (mA cm⁻²)","values":[0.6,0.7,0.8,0.9,1.0,1.1,1.2,1.3,1.4,1.5,1.6],"format":".1f","labelExpr":"round(datum.value*10) % 2 === 0 ? datum.label : ''"}},
     "y":{"field":"y","type":"quantitative","scale":{"domain":[0.15,0.5],"nice":false,"zero":false},
          "axis":{"title":"Overpotential (V)","values":[0.15,0.2,0.25,0.3,0.35,0.4,0.45,0.5],"format":".1f","labelExpr":"round(datum.value*100) % 10 === 0 ? datum.label : ''"}}
    },
    "layer":[
     {"data":{"name":"c"},"mark":{"type":"line","strokeWidth":3},
      "encoding":{"color":{"field":"s","type":"nominal","scale":{"domain":["No Fe","No Co","No Ni","No Cu","No Zn","HEOs"],"range":["#6a1414","#c455e8","#6ddc2a","#ee2020","#c8c8c8","#2848e6"]},"legend":null}}},
     {"data":{"name":"legC"},"mark":{"type":"rule","strokeWidth":3},"encoding":{"x2":{"field":"x2"},"color":{"field":"s","type":"nominal","legend":null}}},
     {"data":{"name":"legC"},"mark":{"type":"text","align":"left","baseline":"middle","fontSize":8.5,"color":"#222"},"encoding":{"x":{"field":"lx","type":"quantitative"},"text":{"field":"s"}}},
     {"data":{"values":[{"l":"131.4 mV dec⁻¹","x":1.044,"y":0.385},{"l":"147.6 mV dec⁻¹","x":1.036,"y":0.319}]},"mark":{"type":"text","angle":344,"fontSize":8.5,"color":"#333"},"encoding":{"text":{"field":"l"}}},
     {"data":{"values":[{"l":"129.1 mV dec⁻¹","x":1.081,"y":0.282},{"l":"98.4 mV dec⁻¹","x":0.923,"y":0.218}]},"mark":{"type":"text","angle":347,"fontSize":8.5,"color":"#333"},"encoding":{"text":{"field":"l"}}},
     {"data":{"values":[{"l":"97.0 mV dec⁻¹","x":1.397,"y":0.285},{"l":"79.4 mV dec⁻¹","x":1.104,"y":0.192}]},"mark":{"type":"text","angle":350,"fontSize":8.5,"color":"#333"},"encoding":{"text":{"field":"l"}}},
     {"data":{"values":[{"l":"(c)","x":0.3926,"y":0.5288}]},"mark":{"type":"text","align":"left","baseline":"top","fontSize":20,"color":"#111"},"encoding":{"text":{"field":"l"}}}
    ]
   }
  ],"spacing":5,"resolve":{"scale":{"color":"independent"},"legend":{"color":"independent"}}},
  {"hconcat":[
   {"width":218,"height":158,
    "encoding":{
     "x":{"field":"x","type":"quantitative","scale":{"domain":[1.4,1.8],"nice":false,"zero":false},
          "axis":{"title":"Potential (V vs. RHE)","values":[1.4,1.45,1.5,1.55,1.6,1.65,1.7,1.75,1.8],"format":".1f","labelExpr":"round(datum.value*100) % 10 === 0 ? datum.label : ''"}},
     "y":{"field":"y","type":"quantitative","scale":{"domain":[0,100],"nice":false,"zero":false},
          "axis":{"title":"Current density (mA cm⁻²)","values":[0,10,20,30,40,50,60,70,80,90,100],"labelExpr":"datum.value % 20 === 0 ? datum.label : ''"}}
    },
    "layer":[
     {"data":{"name":"d"},"mark":{"type":"line","strokeWidth":1.6},
      "encoding":{"color":{"field":"s","type":"nominal","scale":{"domain":["No Fe","No Co","No Ni","No Cu","No Zn","HEOs"],"range":["#6a1414","#c455e8","#6ddc2a","#ee2020","#c8c8c8","#2848e6"]},"legend":null}}},
     {"data":{"name":"legD"},"mark":{"type":"rule","strokeWidth":2.2},"encoding":{"x2":{"field":"x2"},"color":{"field":"s","type":"nominal","legend":null}}},
     {"data":{"name":"legD"},"mark":{"type":"text","align":"left","baseline":"middle","fontSize":8.5,"color":"#222"},"encoding":{"x":{"field":"lx","type":"quantitative"},"text":{"field":"s"}}},
     {"data":{"values":[{"l":"(d)","x":1.3211,"y":107.6}]},"mark":{"type":"text","align":"left","baseline":"top","fontSize":20,"color":"#111"},"encoding":{"text":{"field":"l"}}}
    ]
   },
   {"width":217,"height":158,
    "encoding":{
     "x":{"field":"x","type":"quantitative","scale":{"domain":[0.4,1.6],"nice":false,"zero":false},
          "axis":{"title":"Log J (mA cm⁻²)","values":[0.4,0.5,0.6,0.7,0.8,0.9,1.0,1.1,1.2,1.3,1.4,1.5,1.6],"format":".1f","labelExpr":"round(datum.value*10) % 2 === 0 ? datum.label : ''"}},
     "y":{"field":"y","type":"quantitative","scale":{"domain":[0.3,0.5],"nice":false,"zero":false},
          "axis":{"title":"Overpotential (V)","values":[0.3,0.325,0.35,0.375,0.4,0.425,0.45,0.475,0.5],"format":".2f","labelExpr":"round(datum.value*1000) % 50 === 0 ? datum.label : ''"}}
    },
    "layer":[
     {"data":{"name":"e"},"mark":{"type":"line","strokeWidth":3},
      "encoding":{"color":{"field":"s","type":"nominal","scale":{"domain":["No Fe","No Co","No Ni","No Cu","No Zn","HEOs"],"range":["#6a1414","#c455e8","#6ddc2a","#ee2020","#c8c8c8","#2848e6"]},"legend":null}}},
     {"data":{"name":"legE"},"mark":{"type":"rule","strokeWidth":3},"encoding":{"x2":{"field":"x2"},"color":{"field":"s","type":"nominal","legend":null}}},
     {"data":{"name":"legE"},"mark":{"type":"text","align":"left","baseline":"middle","fontSize":8.5,"color":"#222"},"encoding":{"x":{"field":"lx","type":"quantitative"},"text":{"field":"s"}}},
     {"data":{"values":[{"l":"103.2 mV dec⁻¹","x":1.273,"y":0.456},{"l":"107.0 mV dec⁻¹","x":1.19,"y":0.405},{"l":"81.6 mV dec⁻¹","x":0.738,"y":0.372},{"l":"103.7 mV dec⁻¹","x":1.329,"y":0.383},{"l":"84.3 mV dec⁻¹","x":0.784,"y":0.352}]},"mark":{"type":"text","angle":342,"fontSize":8.5,"color":"#333"},"encoding":{"text":{"field":"l"}}},
     {"data":{"values":[{"l":"53.8 mV dec⁻¹","x":0.886,"y":0.33}]},"mark":{"type":"text","angle":346,"fontSize":8.5,"color":"#333"},"encoding":{"text":{"field":"l"}}},
     {"data":{"values":[{"l":"(e)","x":0.1567,"y":0.5152}]},"mark":{"type":"text","align":"left","baseline":"top","fontSize":20,"color":"#111"},"encoding":{"text":{"field":"l"}}}
    ]
   }
  ],"spacing":1,"resolve":{"scale":{"color":"independent"},"legend":{"color":"independent"}}}
 ],"spacing":3,"resolve":{"scale":{"color":"independent"},"legend":{"color":"independent"}}}
],"spacing":0,"resolve":{"scale":{"color":"independent"},"legend":{"color":"independent"}}},
{"hconcat":[
 {"width":523,"height":278,"view":{"stroke":null},
  "encoding":{
   "x":{"field":"x","type":"quantitative","scale":{"domain":[0.08,14],"nice":false,"zero":false},
        "axis":{"title":"2 Theta (degree.)","domain":false,"ticks":false,"labels":false,"titleFontSize":9.5,"titlePadding":5}},
   "y":{"field":"y","type":"quantitative","scale":{"domain":[0,101.46],"nice":false,"zero":false},"axis":null}
  },
  "layer":[
   {"data":{"name":"faxis"},"mark":{"type":"rule","strokeWidth":2},
    "encoding":{"x2":{"field":"x2"},"color":{"field":"seg","type":"nominal","scale":{"domain":["k","b","r"],"range":["#333333","#2b3c9e","#8b3a3a"]},"legend":null}}},
   {"data":{"name":"ftick"},"mark":{"type":"rule","strokeWidth":1.5},
    "encoding":{"y2":{"field":"y2"},"color":{"field":"seg","type":"nominal","scale":{"domain":["k","b","r"],"range":["#333333","#2b3c9e","#8b3a3a"]},"legend":null}}},
   {"data":{"name":"f"},"mark":{"type":"line","strokeWidth":1.4},
    "encoding":{"color":{"field":"t","type":"nominal","scale":{"domain":["800a","800b","850","900","950","1000","1050","1100","1150a","1150b"],"range":["#c4c4c4","#7f7f7f","#cf5fd6","#e04cc8","#7d55cc","#f0945a","#e3e022","#8ee8cc","#4a9fe3","#2435c8"]},"legend":null}}},
   {"data":{"name":"fgreen"},"mark":{"type":"text","text":"↓","font":"DejaVu Sans","fontSize":11,"fontWeight":"bold","baseline":"middle"},
    "encoding":{"color":{"field":"k","type":"nominal","scale":{"domain":["220","311"],"range":["#5fdcae","#3ccc3c"]},"legend":null}}},
   {"data":{"name":"fblack"},"mark":{"type":"text","font":"DejaVu Sans","fontSize":15,"color":"#111","baseline":"middle"},"encoding":{"text":{"field":"a"}}},
   {"data":{"name":"ftemp"},"mark":{"type":"text","fontSize":8.5,"fontWeight":"bold","color":"#111","baseline":"middle"},"encoding":{"text":{"field":"l"}}},
   {"data":{"values":[{"l":"(220)","x":1.29,"y":17.2},{"l":"(311)","x":1.29,"y":10.6},{"l":"Spinel phase","x":2.74,"y":14.2}]},"mark":{"type":"text","fontSize":9.5,"fontWeight":"bold","color":"#111","baseline":"middle"},"encoding":{"text":{"field":"l"}}},
   {"data":{"values":[{"l":"}","x":1.75,"y":13.9}]},"mark":{"type":"text","font":"DejaVu Sans","fontSize":22,"color":"#111","baseline":"middle"},"encoding":{"text":{"field":"l"}}},
   {"data":{"name":"fblue"},"mark":{"type":"rule","strokeWidth":1.6},
    "encoding":{"x2":{"field":"x2"},"y2":{"field":"y2"},"color":{"field":"n","type":"nominal","scale":{"domain":["1","2"],"range":["#1f3fd0","#3a95e0"]},"legend":null}}},
   {"data":{"values":[{"x":4.95,"y":74.1}]},"mark":{"type":"point","shape":"triangle-left","filled":true,"color":"#1f3fd0","size":30,"opacity":1}},
   {"data":{"values":[{"x":5.99,"y":79.2}]},"mark":{"type":"point","shape":"triangle-right","filled":true,"color":"#3a95e0","size":30,"angle":345,"opacity":1}},
   {"data":{"name":"fcirc"},"mark":{"type":"point","filled":true,"size":110,"opacity":1},
    "encoding":{"color":{"field":"n","type":"nominal","scale":{"domain":["1","2"],"range":["#1f3fd0","#3a95e0"]},"legend":null}}},
   {"data":{"name":"fcirc"},"mark":{"type":"text","color":"#ffffff","fontWeight":"bold","fontSize":9,"baseline":"middle"},"encoding":{"text":{"field":"n"}}},
   {"data":{"values":[{"l":"(f)","x":-0.772,"y":94.2}]},"mark":{"type":"text","align":"left","baseline":"top","fontSize":20,"color":"#111"},"encoding":{"text":{"field":"l"}}}
  ],
  "resolve":{"scale":{"color":"independent"}}
 },
 {"vconcat":[
  {"width":171,"height":125,
   "encoding":{
    "x":{"field":"x","type":"quantitative","scale":{"domain":[-0.5,0],"nice":false,"zero":false},
         "axis":{"title":"Potential (V vs. RHE)","values":[-0.5,-0.45,-0.4,-0.35,-0.3,-0.25,-0.2,-0.15,-0.1,-0.05,0],"format":".1f","labelExpr":"round(datum.value*100) % 10 === 0 ? replace(datum.label,'−','-') : ''","labelFontSize":6.5,"titleFontSize":7.5}},
    "y":{"field":"y","type":"quantitative","scale":{"domain":[-100,0],"nice":false,"zero":false},
         "axis":{"title":"Current density (mA cm⁻²)","values":[-100,-90,-80,-70,-60,-50,-40,-30,-20,-10,0],"labelExpr":"datum.value % 20 === 0 ? replace(datum.label,'−','-') : ''","labelFontSize":6.5,"titleFontSize":7.5}}
   },
   "layer":[
    {"data":{"name":"g"},"mark":{"type":"line","strokeWidth":1.8},
     "encoding":{"color":{"field":"s","type":"nominal","scale":{"domain":["800 °C","800 °C-1150 °C"],"range":["#bdbdbd","#2a80d8"]},"legend":null}}},
    {"data":{"name":"legG"},"mark":{"type":"rule","strokeWidth":2},"encoding":{"x2":{"field":"x2"},"color":{"field":"s","type":"nominal","legend":null}}},
    {"data":{"name":"legG"},"mark":{"type":"text","align":"left","baseline":"middle","fontSize":8,"fontWeight":"bold","color":"#222"},"encoding":{"x":{"field":"lx","type":"quantitative"},"text":{"field":"s"}}},
    {"data":{"values":[{"l":"(g)","x":-0.652,"y":3.2}]},"mark":{"type":"text","align":"left","baseline":"top","fontSize":20,"color":"#111"},"encoding":{"text":{"field":"l"}}}
   ]
  },
  {"width":171,"height":124,
   "encoding":{
    "x":{"field":"x","type":"quantitative","scale":{"domain":[1.3,1.733],"nice":false,"zero":false},
         "axis":{"title":"Potential (V vs. RHE)","values":[1.3,1.35,1.4,1.45,1.5,1.55,1.6,1.65,1.7],"format":".1f","labelExpr":"round(datum.value*100) % 10 === 0 ? datum.label : ''","labelFontSize":6.5,"titleFontSize":7.5}},
    "y":{"field":"y","type":"quantitative","scale":{"domain":[0,100],"nice":false,"zero":false},
         "axis":{"title":"Current density (mA cm⁻²)","values":[0,10,20,30,40,50,60,70,80,90,100],"labelExpr":"datum.value % 20 === 0 ? datum.label : ''","labelFontSize":6.5,"titleFontSize":7.5}}
   },
   "layer":[
    {"data":{"name":"h"},"mark":{"type":"line","strokeWidth":1.8},
     "encoding":{"color":{"field":"s","type":"nominal","scale":{"domain":["800 °C","800 °C-1150 °C"],"range":["#bdbdbd","#2a80d8"]},"legend":null}}},
    {"data":{"name":"legH"},"mark":{"type":"rule","strokeWidth":2},"encoding":{"x2":{"field":"x2"},"color":{"field":"s","type":"nominal","legend":null}}},
    {"data":{"name":"legH"},"mark":{"type":"text","align":"left","baseline":"middle","fontSize":8,"fontWeight":"bold","color":"#222"},"encoding":{"x":{"field":"lx","type":"quantitative"},"text":{"field":"s"}}},
    {"data":{"values":[{"l":"(h)","x":1.1683,"y":106.45}]},"mark":{"type":"text","align":"left","baseline":"top","fontSize":20,"color":"#111"},"encoding":{"text":{"field":"l"}}}
   ]
  }
 ],"spacing":10,"resolve":{"scale":{"color":"independent"},"legend":{"color":"independent"}}}
],"spacing":29,"resolve":{"scale":{"color":"independent"},"legend":{"color":"independent"}}}
]
}
